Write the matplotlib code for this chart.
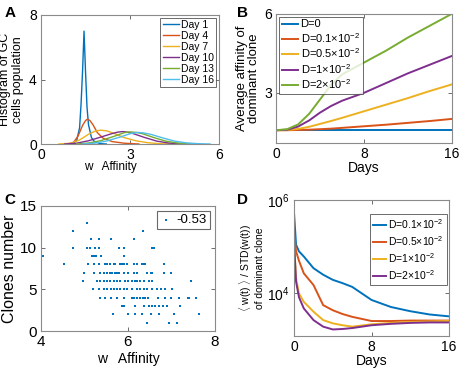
import matplotlib
matplotlib.use("Agg")
import matplotlib.pyplot as plt
import numpy as np

plt.rcParams['font.family'] = ['Liberation Sans', 'DejaVu Sans']
plt.rcParams['mathtext.fontset'] = 'custom'
plt.rcParams['mathtext.rm'] = 'Liberation Sans'
plt.rcParams['mathtext.it'] = 'Liberation Sans:italic'
plt.rcParams['mathtext.bf'] = 'Liberation Sans:bold'

C_BLUE = '#0072BD'; C_RED = '#D95319'; C_YEL = '#EDB120'
C_PUR = '#7E2F8E'; C_GRN = '#77AC30'; C_CYA = '#4DBEEE'

# ---------------- Panel A data ----------------
days_A = ['Day 1', 'Day 4', 'Day 7', 'Day 10', 'Day 13', 'Day 16']
a_x1 = [1.0, 1.2, 1.3, 1.35, 1.4, 1.45, 1.5, 1.55, 1.6, 1.7, 1.8, 2.0, 2.2]
a_y1 = [0.0, 0.2, 1.0, 2.5, 4.5, 7.0, 4.5, 2.3, 1.2, 0.4, 0.15, 0.02, 0.0]
a_x4 = [0.9, 1.1, 1.25, 1.4, 1.5, 1.57, 1.65, 1.75, 1.9, 2.1, 2.4, 2.8, 3.3]
a_y4 = [0.0, 0.1, 0.5, 1.15, 1.45, 1.55, 1.45, 1.2, 0.7, 0.35, 0.15, 0.05, 0.0]
a_x7 = [0.6, 1.0, 1.3, 1.6, 1.8, 2.0, 2.2, 2.4, 2.8, 3.2, 3.6, 4.0, 4.4]
a_y7 = [0.0, 0.05, 0.25, 0.6, 0.78, 0.86, 0.82, 0.7, 0.4, 0.2, 0.08, 0.02, 0.0]
a_x10 = [0.8, 1.2, 1.6, 2.0, 2.4, 2.6, 2.75, 2.9, 3.1, 3.5, 3.9, 4.3, 4.8]
a_y10 = [0.0, 0.05, 0.2, 0.42, 0.65, 0.74, 0.77, 0.74, 0.65, 0.4, 0.18, 0.06, 0.0]
a_x13 = [1.2, 1.6, 2.0, 2.5, 2.8, 3.0, 3.2, 3.4, 3.8, 4.2, 4.6, 5.0, 5.3]
a_y13 = [0.0, 0.06, 0.2, 0.5, 0.7, 0.75, 0.72, 0.65, 0.4, 0.18, 0.06, 0.01, 0.0]
a_x16 = [1.4, 1.8, 2.2, 2.7, 3.0, 3.25, 3.45, 3.7, 4.1, 4.5, 4.9, 5.3, 5.7]
a_y16 = [0.0, 0.05, 0.18, 0.45, 0.64, 0.72, 0.69, 0.6, 0.38, 0.18, 0.07, 0.02, 0.0]

# ---------------- Panel B data ----------------
b_labels = ['D=0', r'D=0.1$\times$10$^{-2}$', r'D=0.5$\times$10$^{-2}$',
            r'D=1$\times$10$^{-2}$', r'D=2$\times$10$^{-2}$']
b_days = [0, 1, 2, 3, 4, 5, 6, 8, 10, 12, 14, 16]
b_d0 = [1.58, 1.58, 1.58, 1.58, 1.58, 1.58, 1.58, 1.58, 1.58, 1.58, 1.58, 1.58]
b_d01 = [1.58, 1.58, 1.59, 1.60, 1.62, 1.64, 1.67, 1.73, 1.79, 1.86, 1.93, 2.01]
b_d05 = [1.58, 1.59, 1.63, 1.71, 1.82, 1.93, 2.05, 2.30, 2.55, 2.80, 3.07, 3.32]
b_d1 = [1.58, 1.60, 1.72, 1.95, 2.25, 2.50, 2.70, 3.00, 3.37, 3.74, 4.07, 4.40]
b_d2 = [1.58, 1.62, 1.80, 2.20, 2.75, 3.30, 3.70, 4.15, 4.60, 5.10, 5.55, 6.00]

# ---------------- Panel C data ----------------
c_aff = [5.06,
         4.73, 6.34,
         5.15, 5.33, 5.6, 6.13,
         4.73, 5.06, 5.12, 5.25, 5.33, 5.79, 5.9, 6.55, 6.6,
         4.04, 5.18, 5.22, 5.26, 5.38, 5.9,
         4.54, 5.09, 5.22, 5.33, 5.48, 5.51, 5.59, 5.67, 5.7, 5.82, 5.86, 5.9, 5.97, 6.13, 6.22, 6.32, 6.36, 6.4, 6.84,
         4.99, 5.23, 5.36, 5.44, 5.51, 5.59, 5.64, 5.7, 5.74, 5.8, 5.91, 6.0, 6.13, 6.2, 6.43, 6.52, 6.55, 6.84, 7.0,
         4.96, 5.28, 5.36, 5.44, 5.51, 5.59, 5.67, 5.74, 5.82, 5.94, 6.01, 6.09, 6.16, 6.2, 6.28, 6.36, 6.49, 6.55, 7.46,
         5.19, 5.33, 5.45, 5.51, 5.61, 5.67, 5.74, 5.82, 5.9, 5.97, 6.09, 6.2, 6.28, 6.36, 6.43, 6.55, 6.66, 6.76, 6.85, 7.02,
         5.36, 5.48, 5.61, 5.74, 5.92, 6.09, 6.13, 6.2, 6.28, 6.34, 6.4, 6.47, 6.7, 6.85, 7.0, 7.17, 7.39, 7.41, 7.56,
         5.87, 5.91, 6.16, 6.36, 6.48, 6.55, 6.63, 6.71, 6.8, 6.91, 7.2,
         5.65, 6.0, 6.16, 6.32, 6.52, 6.71, 7.06, 7.64,
         6.44, 6.95, 7.14]
c_clones = ([13] + [12] * 2 + [11] * 4 + [10] * 9 + [9] * 6 + [8] * 19 + [7] * 19
            + [6] * 19 + [5] * 20 + [4] * 19 + [3] * 11 + [2] * 8 + [1] * 3)
c_corr = '-0.53'

# ---------------- Panel D data ----------------
d_labels = [r'D=0.1$\times$10$^{-2}$', r'D=0.5$\times$10$^{-2}$',
            r'D=1$\times$10$^{-2}$', r'D=2$\times$10$^{-2}$']
d_days = [0, 0.2, 0.5, 1, 2, 3, 4, 5, 6, 8, 10, 12, 14, 16]
d_log01 = [5.69, 5.04, 4.90, 4.79, 4.54, 4.40, 4.29, 4.22, 4.14, 3.86, 3.71, 3.62, 3.55, 3.51]
d_log05 = [5.29, 4.90, 4.70, 4.43, 4.18, 3.75, 3.64, 3.56, 3.50, 3.41, 3.41, 3.42, 3.42, 3.42]
d_log1 = [5.07, 4.32, 4.00, 3.82, 3.61, 3.43, 3.36, 3.32, 3.29, 3.34, 3.37, 3.39, 3.40, 3.41]
d_log2 = [5.07, 4.25, 3.92, 3.68, 3.43, 3.29, 3.23, 3.24, 3.26, 3.32, 3.35, 3.37, 3.38, 3.38]

# ---------------- Figure ----------------
fig = plt.figure(figsize=(4.61, 3.75), dpi=100)
SP = '#8a8a8a'

def style(ax, ls=10):
    for s in ax.spines.values():
        s.set_color(SP); s.set_linewidth(0.8)
    ax.tick_params(direction='in', top=True, right=True, length=3, width=0.6,
                   color='#555555', labelsize=ls, pad=3)

def frame(lg, lw=0.7):
    lg.get_frame().set_edgecolor('#444444'); lg.get_frame().set_linewidth(lw)

# A
axA = fig.add_axes([0.089, 0.616, 0.386, 0.344])
for xs, ys, c, lab in zip([a_x1, a_x4, a_x7, a_x10, a_x13, a_x16],
                          [a_y1, a_y4, a_y7, a_y10, a_y13, a_y16],
                          [C_BLUE, C_RED, C_YEL, C_PUR, C_GRN, C_CYA], days_A):
    axA.plot(xs, ys, color=c, lw=1.0, label=lab)
axA.set_xlim(0, 6); axA.set_ylim(0, 8)
axA.set_xticks([0, 3, 6]); axA.set_yticks([0, 4, 8])
axA.set_xlabel('w   Affinity', fontsize=8.5, labelpad=2)
axA.xaxis.set_label_coords(0.39, -0.13)
axA.set_ylabel('Histogram of GC\ncells population', fontsize=9, labelpad=4, linespacing=1.05)
style(axA)
lg = axA.legend(loc='upper right', fontsize=7.5, handlelength=1.6, handletextpad=0.2,
                labelspacing=0.1, borderpad=0.2, borderaxespad=0.25, frameon=True, fancybox=False)
frame(lg)

# B
axB = fig.add_axes([0.599, 0.619, 0.381, 0.344])
for ys, c, lab in zip([b_d0, b_d01, b_d05, b_d1, b_d2],
                      [C_BLUE, C_RED, C_YEL, C_PUR, C_GRN], b_labels):
    axB.plot(b_days, ys, color=c, lw=1.4, label=lab)
axB.set_xlim(0, 16); axB.set_ylim(1.1, 6)
axB.set_xticks([0, 8, 16]); axB.set_yticks([3, 6])
axB.set_xlabel('Days', fontsize=10, labelpad=0)
axB.set_ylabel('Average affinity of\ndominant clone', fontsize=9.5, labelpad=3, linespacing=1.05)
style(axB)
lg = axB.legend(loc='upper left', fontsize=8, handlelength=1.5, handletextpad=0.2,
                labelspacing=0.15, borderpad=0.25, borderaxespad=0.25, frameon=True, fancybox=False)
frame(lg)

# C
axC = fig.add_axes([0.089, 0.117, 0.377, 0.334])
axC.scatter(c_aff, c_clones, s=4.5, marker='s', color=C_BLUE, linewidths=0, label=c_corr)
axC.set_xlim(4, 8); axC.set_ylim(0, 15)
axC.set_xticks([4, 6, 8]); axC.set_yticks([0, 5, 10, 15])
axC.set_xlabel('w   Affinity', fontsize=10, labelpad=2)
axC.set_ylabel('Clones number', fontsize=11.5, labelpad=2)
style(axC, ls=11)
lg = axC.legend(loc='upper right', fontsize=9.5, handlelength=1.0, handletextpad=0.3,
                borderpad=0.2, borderaxespad=0.4, frameon=True, fancybox=False, markerscale=1.0)
frame(lg, 0.8)

# D
axD = fig.add_axes([0.638, 0.104, 0.336, 0.363])
for ys, c, lab in zip([d_log01, d_log05, d_log1, d_log2],
                      [C_BLUE, C_RED, C_YEL, C_PUR], d_labels):
    axD.plot(d_days, np.power(10.0, ys), color=c, lw=1.4, label=lab)
axD.set_yscale('log')
axD.set_xlim(0, 16); axD.set_ylim(10 ** 3.09, 1e6)
axD.set_xticks([0, 8, 16]); axD.set_yticks([1e4, 1e6])
axD.yaxis.set_minor_locator(matplotlib.ticker.NullLocator())
axD.set_xlabel('Days', fontsize=10, labelpad=0)
axD.set_ylabel(r'$\langle$ w(t) $\rangle$ / STD(w(t))' + '\nof dominant clone',
               fontsize=7.5, labelpad=2, linespacing=1.05)
style(axD)
lg = axD.legend(loc='upper left', bbox_to_anchor=(0.803, 0.429), bbox_transform=fig.transFigure,
                fontsize=7.5, handlelength=1.2, handletextpad=0.2,
                labelspacing=0.3, borderpad=0.3, borderaxespad=0.0, frameon=True, fancybox=False)
frame(lg)

# panel letters
for x, y, t in [(0.01, 0.955, 'A'), (0.515, 0.955, 'B'), (0.01, 0.455, 'C'), (0.515, 0.455, 'D')]:
    fig.text(x, y, t, fontsize=11, fontweight='bold')

fig.savefig('out.png', dpi=100)
